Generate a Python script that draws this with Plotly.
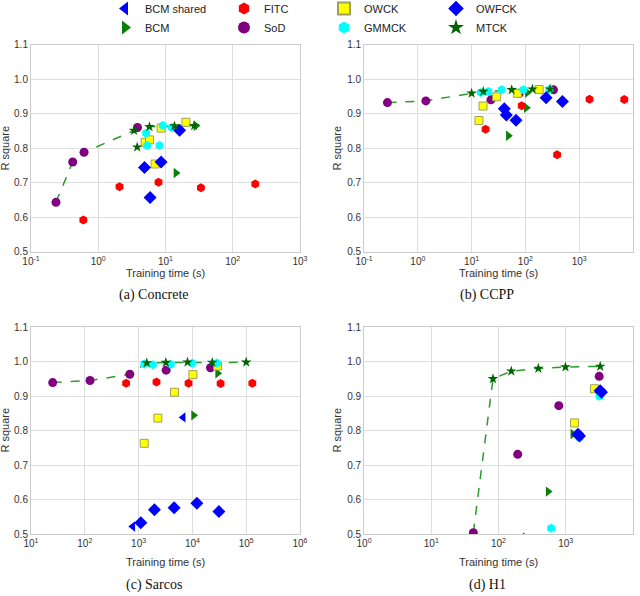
import plotly.graph_objects as go

# ---------------- data ----------------
SERIES = ["BCM shared", "BCM", "FITC", "SoD", "OWCK", "GMMCK", "OWFCK", "MTCK"]
PANEL_CAPTIONS = ["(a) Concrete", "(b) CCPP", "(c) Sarcos", "(d) H1"]
X_DECADES = [[-1, 0, 1, 2, 3], [-1, 0, 1, 2, 3, 4], [1, 2, 3, 4, 5, 6], [0, 1, 2, 3, 4]]
Y_TICKS = [0.5, 0.6, 0.7, 0.8, 0.9, 1.0, 1.1]

# (a) Concrete
a_bcms_x, a_bcms_y = [], []
a_bcm_x, a_bcm_y = [14.3, 28.3], [0.729, 0.866]
a_fitc_x, a_fitc_y = [0.60, 2.07, 7.87, 33.6, 216], [0.593, 0.689, 0.702, 0.686, 0.697]
a_sod_x, a_sod_y = [0.235, 0.417, 0.615, 3.83], [0.644, 0.761, 0.789, 0.861]
a_owck_x, a_owck_y = [4.98, 5.78, 7.0, 8.6, 20.1], [0.818, 0.825, 0.755, 0.859, 0.876]
a_gmmck_x, a_gmmck_y = [5.15, 5.33, 8.14, 9.12, 12.4], [0.844, 0.809, 0.809, 0.867, 0.861]
a_owfck_x, a_owfck_y = [4.87, 5.9, 8.6, 16.2], [0.745, 0.658, 0.761, 0.853]
a_mtck_x, a_mtck_y = [3.41, 5.77, 13.6, 26.7, 3.79], [0.852, 0.863, 0.865, 0.866, 0.804]
a_line_x = [0.235, 0.417, 0.615, 3.41, 5.77, 13.6, 26.7]
a_line_y = [0.644, 0.761, 0.789, 0.852, 0.863, 0.865, 0.866]

# (b) CCPP
b_bcms_x, b_bcms_y = [], []
b_bcm_x, b_bcm_y = [48.2, 104, 109], [0.837, 0.918, 0.962]
b_fitc_x, b_fitc_y = [18.2, 85.5, 389, 1560, 6900], [0.856, 0.924, 0.782, 0.943, 0.942]
b_sod_x, b_sod_y = [0.272, 1.41, 22.9, 77.3, 333], [0.933, 0.938, 0.941, 0.960, 0.970]
b_owck_x, b_owck_y = [13.7, 16.3, 29.2, 71, 180], [0.881, 0.923, 0.950, 0.960, 0.971]
b_gmmck_x, b_gmmck_y = [14.9, 20.5, 36.2, 91.8, 280], [0.962, 0.965, 0.970, 0.970, 0.971]
b_owfck_x, b_owfck_y = [40.6, 44.3, 67, 243, 489], [0.915, 0.897, 0.882, 0.947, 0.936]
b_mtck_x, b_mtck_y = [10, 16.5, 55.6, 135, 288], [0.960, 0.965, 0.970, 0.972, 0.972]
b_line_x = [0.272, 1.41, 10, 16.5, 55.6, 135, 288]
b_line_y = [0.933, 0.938, 0.960, 0.965, 0.970, 0.972, 0.972]

# (c) Sarcos
c_bcms_x, c_bcms_y = [6750, 780], [0.838, 0.522]
c_bcm_x, c_bcm_y = [10500, 29400], [0.844, 0.966]
c_fitc_x, c_fitc_y = [586, 2150, 8470, 33400, 130000], [0.937, 0.941, 0.937, 0.936, 0.937]
c_sod_x, c_sod_y = [25.3, 125, 686, 3250, 21700], [0.939, 0.945, 0.963, 0.975, 0.982]
c_owck_x, c_owck_y = [1270, 2280, 4650, 10200, 29400], [0.763, 0.836, 0.911, 0.962, 0.987]
c_gmmck_x, c_gmmck_y = [1270, 1840, 3970, 10000, 28500], [0.993, 0.991, 0.992, 0.995, 0.996]
c_owfck_x, c_owfck_y = [1100, 1970, 4580, 12100, 31100], [0.533, 0.570, 0.576, 0.589, 0.565]
c_mtck_x, c_mtck_y = [1420, 3210, 8110, 23400, 100000], [0.996, 0.997, 0.998, 0.997, 0.998]
c_line_x = [25.3, 125, 686, 1420, 3210, 8110, 23400, 100000]
c_line_y = [0.939, 0.945, 0.963, 0.996, 0.997, 0.998, 0.997, 0.998]

# (d) H1
d_bcms_x, d_bcms_y = [], []
d_bcm_x, d_bcm_y = [250, 547, 1276], [0.49, 0.623, 0.790]
d_fitc_x, d_fitc_y = [], []
d_sod_x, d_sod_y = [42.2, 193, 789, 3150], [0.504, 0.731, 0.872, 0.957]
d_owck_x, d_owck_y = [1350, 2680], [0.822, 0.921]
d_gmmck_x, d_gmmck_y = [606, 1600, 3180], [0.517, 0.779, 0.899]
d_owfck_x, d_owfck_y = [1520, 1600, 3250, 3400], [0.789, 0.784, 0.915, 0.911]
d_mtck_x, d_mtck_y = [82.8, 155, 392, 991, 3260], [0.950, 0.972, 0.980, 0.984, 0.986]
d_line_x = [42.2, 82.8, 155, 392, 991, 3260]
d_line_y = [0.504, 0.950, 0.972, 0.980, 0.984, 0.986]

PANELS = [
    [(a_bcms_x, a_bcms_y), (a_bcm_x, a_bcm_y), (a_fitc_x, a_fitc_y), (a_sod_x, a_sod_y),
     (a_owck_x, a_owck_y), (a_gmmck_x, a_gmmck_y), (a_owfck_x, a_owfck_y), (a_mtck_x, a_mtck_y)],
    [(b_bcms_x, b_bcms_y), (b_bcm_x, b_bcm_y), (b_fitc_x, b_fitc_y), (b_sod_x, b_sod_y),
     (b_owck_x, b_owck_y), (b_gmmck_x, b_gmmck_y), (b_owfck_x, b_owfck_y), (b_mtck_x, b_mtck_y)],
    [(c_bcms_x, c_bcms_y), (c_bcm_x, c_bcm_y), (c_fitc_x, c_fitc_y), (c_sod_x, c_sod_y),
     (c_owck_x, c_owck_y), (c_gmmck_x, c_gmmck_y), (c_owfck_x, c_owfck_y), (c_mtck_x, c_mtck_y)],
    [(d_bcms_x, d_bcms_y), (d_bcm_x, d_bcm_y), (d_fitc_x, d_fitc_y), (d_sod_x, d_sod_y),
     (d_owck_x, d_owck_y), (d_gmmck_x, d_gmmck_y), (d_owfck_x, d_owfck_y), (d_mtck_x, d_mtck_y)],
]
LINES = [(a_line_x, a_line_y), (b_line_x, b_line_y), (c_line_x, c_line_y), (d_line_x, d_line_y)]

# ---------------- style ----------------
STYLE = {
    "BCM shared": dict(symbol="triangle-left", color="#0000ff", size=9, line=dict(width=0)),
    "BCM": dict(symbol="triangle-right", color="#0a800a", size=9, line=dict(width=0)),
    "FITC": dict(symbol="hexagon", color="#ff0000", size=9, line=dict(width=0)),
    "SoD": dict(symbol="circle", color="#800080", size=9, line=dict(width=0)),
    "OWCK": dict(symbol="square", color="#ffff00", size=8, line=dict(width=1, color="#a0a060")),
    "GMMCK": dict(symbol="hexagon", color="#00ffff", size=9, line=dict(width=0)),
    "OWFCK": dict(symbol="diamond", color="#0000ff", size=10, line=dict(width=0)),
    "MTCK": dict(symbol="star", color="#006400", size=8, line=dict(width=0)),
}
LEGEND_OF = {"BCM shared": "legend", "BCM": "legend", "FITC": "legend2", "SoD": "legend2",
             "OWCK": "legend3", "GMMCK": "legend3", "OWFCK": "legend4", "MTCK": "legend4"}

FONT = "Liberation Sans, Arial, sans-serif"
GRID = "#dedede"
FRAME = "#cccccc"
TICKC = "#333333"

fig = go.Figure()
axes = [("x", "y"), ("x2", "y2"), ("x3", "y3"), ("x4", "y4")]
shown = set()
for p, (xa, ya) in enumerate(axes):
    lx, ly = LINES[p]
    fig.add_trace(go.Scatter(x=lx, y=ly, mode="lines", xaxis=xa, yaxis=ya, showlegend=False,
                             line=dict(color="#2e9a2e", width=1.5, dash="dash"), hoverinfo="skip"))
    for i, name in enumerate(SERIES):
        xs, ys = PANELS[p][i]
        st = STYLE[name]
        show = bool(xs) and name not in shown
        if show:
            shown.add(name)
        fig.add_trace(go.Scatter(
            x=xs, y=ys, mode="markers", name=name, xaxis=xa, yaxis=ya,
            showlegend=show, legend=LEGEND_OF[name], legendrank=i + 1,
            marker=dict(symbol=st["symbol"], color=st["color"], size=st["size"], line=st["line"]),
        ))

XDOM = [[0.0484, 0.4688], [0.5688, 0.989]]
YDOM = [[0.5772, 0.9245], [0.104, 0.4513]]
TITLE_OFF = [21, 28]
CAPTION_OFF = [43, 51]
EPS = 0.0005
layout = dict(width=640, height=596, margin=dict(l=0, r=0, t=0, b=0, autoexpand=False),
              paper_bgcolor="white", plot_bgcolor="white",
              font=dict(family=FONT, color=TICKC))
for p in range(4):
    sx = "" if p == 0 else str(p + 1)
    col, row = p % 2, p // 2
    dec = X_DECADES[p]
    layout["xaxis" + sx] = dict(
        type="log", range=[dec[0] - EPS, dec[-1] + EPS], domain=XDOM[col], anchor="y" + sx,
        tickvals=[10.0 ** k for k in dec], ticktext=["10<sup>%d</sup>" % k for k in dec],
        showgrid=True, gridcolor=GRID, gridwidth=1, showline=True, linecolor=FRAME, linewidth=1,
        mirror=True, ticks="", zeroline=False, automargin=False,
        tickfont=dict(size=10, color=TICKC, family=FONT))
    layout["yaxis" + sx] = dict(
        range=[0.5, 1.1], domain=YDOM[row], anchor="x" + sx, tickvals=Y_TICKS, tickformat=".1f",
        showgrid=True, gridcolor=GRID, gridwidth=1, showline=True, linecolor=FRAME, linewidth=1,
        mirror=True, ticks="", zeroline=False, automargin=False,
        tickfont=dict(size=10, color=TICKC, family=FONT))

leg_common = dict(orientation="v", yanchor="top", y=1.0 + 6 / 596, xanchor="left",
                  bgcolor="rgba(0,0,0,0)",
                  font=dict(size=11, family=FONT, color="#222222"), itemsizing="constant",
                  traceorder="normal")
layout["legend"] = dict(leg_common, x=105 / 640)
layout["legend2"] = dict(leg_common, x=224 / 640)
layout["legend3"] = dict(leg_common, x=324 / 640)
layout["legend4"] = dict(leg_common, x=436 / 640)

ann = []
for p in range(4):
    col, row = p % 2, p // 2
    xd, yd = XDOM[col], YDOM[row]
    xc = (xd[0] + xd[1]) / 2
    ann.append(dict(text="Training time (s)", x=xc, y=yd[0] - TITLE_OFF[row] / 596,
                    xref="paper", yref="paper",
                    showarrow=False, xanchor="center", yanchor="middle",
                    font=dict(size=11, family=FONT, color=TICKC)))
    ann.append(dict(text="R square", x=(5 if col == 0 else 337) / 640, y=(yd[0] + yd[1]) / 2,
                    xref="paper", yref="paper", showarrow=False, textangle=-90,
                    xanchor="center", yanchor="middle", font=dict(size=11, family=FONT, color=TICKC)))
    ann.append(dict(text=PANEL_CAPTIONS[p], x=(154 if col == 0 else 487) / 640,
                    y=yd[0] - CAPTION_OFF[row] / 596,
                    xref="paper", yref="paper", showarrow=False, xanchor="center", yanchor="middle",
                    font=dict(size=14, family="Liberation Serif, Times New Roman, serif", color="#111111")))
layout["annotations"] = ann
fig.update_layout(**layout)
fig.write_html("out.html")
